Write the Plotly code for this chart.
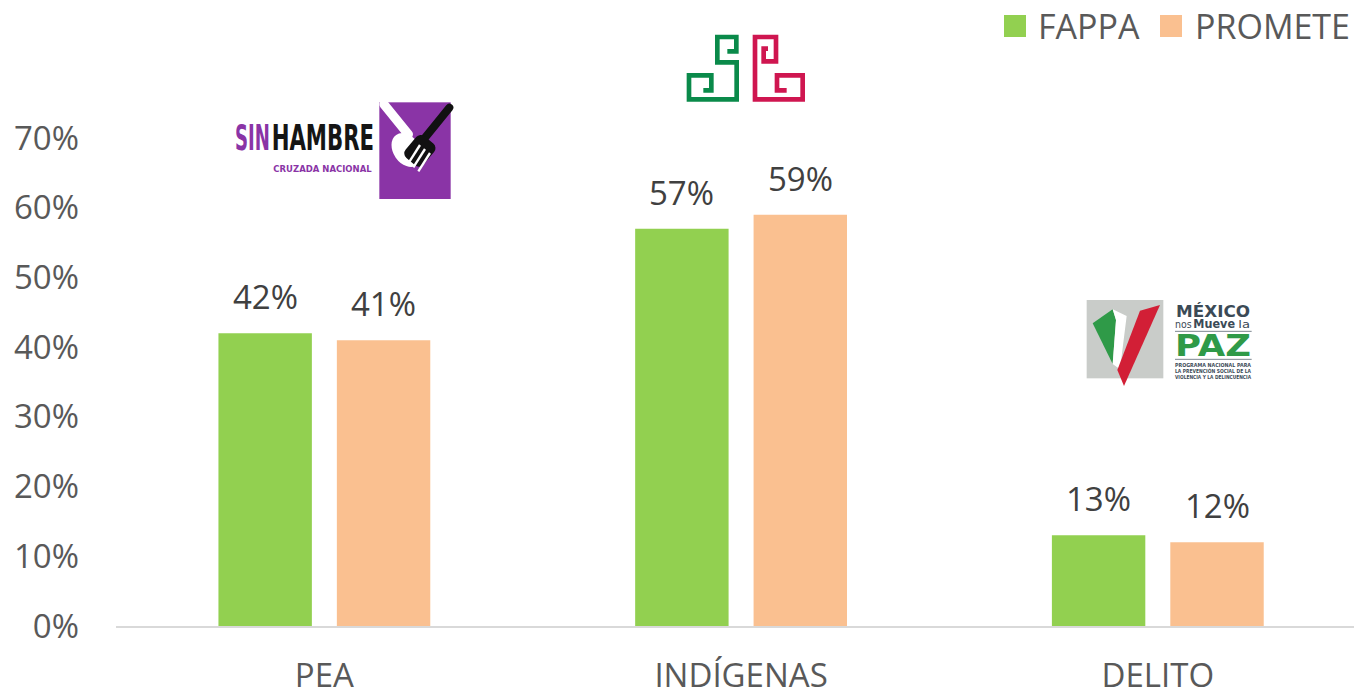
import base64
import plotly.graph_objects as go

categories = ["PEA", "INDÍGENAS", "DELITO"]
series_names = ["FAPPA", "PROMETE"]
fappa = [0.42, 0.57, 0.13]
promete = [0.41, 0.59, 0.12]
series_values = [fappa, promete]
series_colors = ["#92D050", "#FAC090"]
y_ticks = [0, 0.1, 0.2, 0.3, 0.4, 0.5, 0.6, 0.7]
y_tick_labels = ["0%", "10%", "20%", "30%", "40%", "50%", "60%", "70%"]

# the page body has an 8px margin, so the figure is drawn 8px in from the top-left
PAGE_OFF = 8
W, H = 1362 - PAGE_OFF, 692 - PAGE_OFF
L, R, T, B = 108, 0, 130, 66
PW, PH = W - L - R, H - T - B


def px_to_paper(x, y):
    # x, y are page pixel coordinates
    xf, yf = x - PAGE_OFF, y - PAGE_OFF
    return (xf - L) / PW, (H - B - yf) / PH


def svg_uri(svg):
    return "data:image/svg+xml;base64," + base64.b64encode(svg.encode("utf-8")).decode("ascii")


sinhambre_svg = """<svg xmlns="http://www.w3.org/2000/svg" viewBox="0 0 720 330" width="720" height="330">
<rect x="478" y="22" width="214" height="290" fill="#8a34a6"/>
<text x="45" y="165" font-family="DejaVu Sans Condensed, DejaVu Sans, sans-serif" font-weight="bold" font-size="108" fill="#8a34a6" textLength="105" lengthAdjust="spacingAndGlyphs">SIN</text>
<text x="155" y="165" font-family="DejaVu Sans Condensed, DejaVu Sans, sans-serif" font-weight="bold" font-size="108" fill="#151515" textLength="307" lengthAdjust="spacingAndGlyphs">HAMBRE</text>
<text x="160" y="232" font-family="DejaVu Sans, sans-serif" font-weight="bold" font-size="28" fill="#8a34a6" textLength="295" lengthAdjust="spacingAndGlyphs">CRUZADA NACIONAL</text>
<line x1="492" y1="28" x2="565" y2="118" stroke="white" stroke-width="28" stroke-linecap="round"/>
<ellipse cx="560" cy="165" rx="40" ry="55" transform="rotate(-35 560 165)" fill="white"/>
<line x1="688" y1="38" x2="615" y2="128" stroke="#111" stroke-width="24" stroke-linecap="round"/>
<rect x="565" y="125" width="70" height="85" rx="18" transform="rotate(40 600 167)" fill="#111"/>
<line x1="600" y1="150" x2="565" y2="205" stroke="white" stroke-width="7"/>
<line x1="615" y1="162" x2="580" y2="217" stroke="white" stroke-width="7"/>
<line x1="630" y1="174" x2="595" y2="229" stroke="white" stroke-width="7"/>
</svg>"""

fret_svg = """<svg xmlns="http://www.w3.org/2000/svg" viewBox="0 0 450 270" width="450" height="270">
<path d="M172,94 L199,94 L199,51 L142,51 L142,127 L200,127 L200,238 L57,238 L57,166 L124,166 L124,211 L100,211" fill="none" stroke="#0a8a4a" stroke-width="14" stroke-linejoin="miter"/>
<path d="M294,86 L281,86 L281,124 L318,124 L318,51 L255,51 L255,238 L398,238 L398,166 L321,166 L321,211 L350,211" fill="none" stroke="#cf1650" stroke-width="14" stroke-linejoin="miter"/>
</svg>"""

mexico_svg = """<svg xmlns="http://www.w3.org/2000/svg" viewBox="0 0 540 300" width="540" height="300">
<rect x="20" y="30" width="230" height="235" fill="#c9ccc9"/>
<polygon points="38,100 98,58 108,90 98,222" fill="#2f9a48"/>
<polygon points="98,58 140,78 120,238 98,222 108,90" fill="#ffffff"/>
<polygon points="180,62 240,45 132,288 112,240" fill="#d21f36"/>
<text x="288" y="80" font-family="DejaVu Sans, sans-serif" font-weight="bold" font-size="50" fill="#3b4a56" textLength="222" lengthAdjust="spacingAndGlyphs">MÉXICO</text>
<text x="285" y="115" font-family="DejaVu Sans, sans-serif" font-size="30" fill="#3b4a56" textLength="50" lengthAdjust="spacingAndGlyphs">nos</text>
<text x="340" y="115" font-family="DejaVu Sans, sans-serif" font-weight="bold" font-size="38" fill="#3b4a56" textLength="125" lengthAdjust="spacingAndGlyphs">Mueve</text>
<text x="475" y="115" font-family="DejaVu Sans, sans-serif" font-size="30" fill="#3b4a56" textLength="35" lengthAdjust="spacingAndGlyphs">la</text>
<line x1="285" y1="124" x2="515" y2="124" stroke="#3b4a56" stroke-width="2"/>
<text x="285" y="197" font-family="DejaVu Sans, sans-serif" font-weight="bold" font-size="88" fill="#2f9a48" textLength="228" lengthAdjust="spacingAndGlyphs">PAZ</text>
<line x1="285" y1="208" x2="515" y2="208" stroke="#3b4a56" stroke-width="2"/>
<text x="285" y="232" font-family="DejaVu Sans, sans-serif" font-weight="bold" font-size="15" fill="#3b4a56" textLength="228" lengthAdjust="spacingAndGlyphs">PROGRAMA NACIONAL PARA</text>
<text x="285" y="249" font-family="DejaVu Sans, sans-serif" font-weight="bold" font-size="15" fill="#3b4a56" textLength="228" lengthAdjust="spacingAndGlyphs">LA PREVENCIÓN SOCIAL DE LA</text>
<text x="285" y="266" font-family="DejaVu Sans, sans-serif" font-weight="bold" font-size="15" fill="#3b4a56" textLength="228" lengthAdjust="spacingAndGlyphs">VIOLENCIA Y LA DELINCUENCIA</text>
</svg>"""

logos = [
    (sinhambre_svg, 220, 95, 240, 110),
    (fret_svg, 670, 20, 150, 90),
    (mexico_svg, 1080, 290, 180, 100),
]

# legend layout (page pixels): square left edge and text left edge per entry
legend_items = [(1004, 1038), (1160, 1195)]
LEG_SQ = 22
LEG_CY = 26

fig = go.Figure()
for name, vals, col in zip(series_names, series_values, series_colors):
    fig.add_trace(go.Bar(
        x=categories, y=vals, name=name, marker=dict(color=col, line=dict(width=0)),
        showlegend=False, hoverinfo="x+y",
    ))

annotations = []
offsets = [-59.2, 59.2]
for vals, dx in zip(series_values, offsets):
    for c, v in zip(categories, vals):
        annotations.append(dict(
            x=c, y=v, xref="x", yref="y", text=f"{round(v * 100)}%", showarrow=False,
            xshift=dx, yshift=12, yanchor="bottom", xanchor="center",
            font=dict(family="Open Sans", size=33, color="#404040"),
        ))

shapes = []
for name, col, (sx, tx) in zip(series_names, series_colors, legend_items):
    x0, y0 = px_to_paper(sx, LEG_CY - LEG_SQ / 2)
    x1, y1 = px_to_paper(sx + LEG_SQ, LEG_CY + LEG_SQ / 2)
    shapes.append(dict(type="rect", xref="paper", yref="paper", x0=x0, x1=x1, y0=y1, y1=y0,
                       fillcolor=col, line=dict(width=0)))
    ax, ay = px_to_paper(tx - 2, LEG_CY)
    annotations.append(dict(
        x=ax, y=ay, xref="paper", yref="paper", text=name, showarrow=False,
        xanchor="left", yanchor="middle",
        font=dict(family="Open Sans", size=34, color="#595959"),
    ))

images = []
for svg, x, y, w, h in logos:
    xp, yp = px_to_paper(x, y)
    images.append(dict(
        source=svg_uri(svg), xref="paper", yref="paper", x=xp, y=yp,
        sizex=w / PW, sizey=h / PH, xanchor="left", yanchor="top",
        sizing="stretch", layer="above",
    ))

fig.update_layout(
    width=W, height=H,
    margin=dict(l=L, r=R, t=T, b=B, pad=0),
    paper_bgcolor="white", plot_bgcolor="white",
    barmode="group", bargap=0.4317, bargroupgap=0.211,
    font=dict(family="Open Sans", size=33, color="#595959"),
    showlegend=False,
    xaxis=dict(
        type="category", range=[-0.5, 2.49], showline=True, linecolor="#d9d9d9", linewidth=2,
        showgrid=False, zeroline=False, ticks="", automargin=False, ticklabelstandoff=19,
        tickfont=dict(family="Open Sans", size=33, color="#595959"),
    ),
    yaxis=dict(
        range=[0, 0.7], tickvals=y_ticks, ticktext=y_tick_labels, showgrid=False,
        zeroline=False, showline=False, ticks="", automargin=False, ticklabelstandoff=36,
        tickfont=dict(family="Open Sans", size=33, color="#595959"),
    ),
    annotations=annotations,
    shapes=shapes,
    images=images,
)

fig.write_html("out.html")
